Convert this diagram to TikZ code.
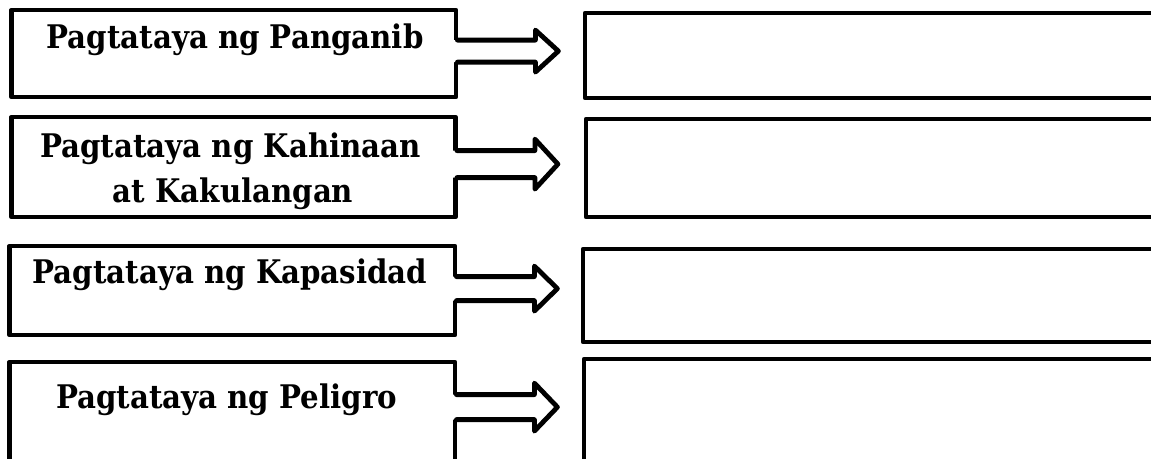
\documentclass[tikz,border=0pt]{standalone}
\usepackage{fontspec}
\setmainfont{DejaVu Serif}
\newfontfamily\labelfont{DejaVu Serif Condensed}
\usetikzlibrary{calc}
\tikzset{
  boxst/.style={draw=black, line width=4.8pt, line join=round, inner sep=0pt, fill=white},
  arrst/.style={draw=black, line width=4.8pt, line join=round, line cap=round},
  lbl/.style={anchor=base, inner sep=0pt, font=\labelfont\bfseries\fontsize{32.5}{38}\selectfont}
}
% #1 start coordinate (centre of tail), #2 half shaft, #3 half head
\newcommand{\blockarr}[3]{%
  \fill[white] ($(#1)+(-5,-#2)$) -- ++(82,0) -- ++(0,#2-#3) -- ++(23,#3) -- ++(-23,#3) -- ++(0,#2-#3) -- ++(-82,0) -- cycle;
  \draw[arrst] ($(#1)+(-1,-#2)$) -- ++(78,0) -- ++(0,#2-#3) -- ++(23,#3) -- ++(-23,#3) -- ++(0,#2-#3) -- ++(-78,0);
}
\begin{document}
\begin{tikzpicture}[x=1pt,y=-1pt]
\path[fill=white] (0,0) rectangle (1151,458);
\useasboundingbox (0,0) rectangle (1151,458);
% left boxes
\node[boxst, minimum width=444.5pt, minimum height=87pt] (L1) at (233.75,53.5) {};
\node[boxst, minimum width=444pt, minimum height=100pt] (L2) at (233.5,167) {};
\node[boxst, minimum width=445.5pt, minimum height=89pt] (L3) at (232.25,290.5) {};
\node[boxst, minimum width=445.5pt, minimum height=118pt] (L4) at (232.25,421) {};
% right boxes
\node[boxst, minimum width=585pt, minimum height=85pt] (R1) at (877.5,55.5) {};
\node[boxst, minimum width=584pt, minimum height=98pt] (R2) at (878,168) {};
\node[boxst, minimum width=587pt, minimum height=93pt] (R3) at (876.5,295.5) {};
\node[boxst, minimum width=586pt, minimum height=121pt] (R4) at (877,419.5) {};
% texts
\node[lbl] (T1) at (235,48) {Pagtataya ng Panganib};
\node[lbl] (T2a) at (230.5,157) {Pagtataya ng Kahinaan};
\node[lbl] (T2b) at (233,202) {at Kakulangan};
\node[lbl] (T3) at (230,283) {Pagtataya ng Kapasidad};
\node[lbl] (T4) at (226.5,408) {Pagtataya ng Peligro};
% arrows
\coordinate (a1) at ($(L1.north east)+(0,43.5)$);
\coordinate (a2) at ($(L2.north east)+(0,49.5)$);
\coordinate (a3) at ($(L3.north east)+(0,45)$);
\coordinate (a4) at ($(L4.north east)+(0,47.5)$);
\blockarr{a1}{11}{21}
\blockarr{a2}{13.5}{25}
\blockarr{a3}{12}{22.5}
\blockarr{a4}{12.5}{24}
\end{tikzpicture}
\end{document}
